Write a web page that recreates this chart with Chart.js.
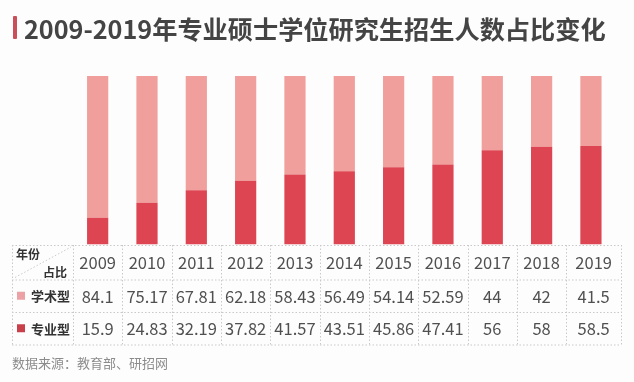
<!DOCTYPE html>
<html>
<head>
<meta charset="utf-8">
<script src="https://cdn.jsdelivr.net/npm/chart.js@4/dist/chart.umd.min.js"></script>
<style>
  html, body { margin:0; padding:0; background:#fdfdfd; }
  #wrap { position:relative; width:634px; height:382px; overflow:hidden; background:#fdfdfd; }
  #c { position:absolute; left:0; top:0; }
  #accent { position:absolute; left:13px; top:16px; width:4px; height:23px; background:#c94f5a; border-radius:1px; }
  #title { position:absolute; left:24px; top:14px; font:700 25.2px "Noto Sans CJK SC", sans-serif; line-height:28px; color:#444; white-space:nowrap; letter-spacing:0px; }
  #source { position:absolute; left:12px; top:355px; font:400 13px "Noto Sans CJK SC", sans-serif; line-height:16px; color:#8c8c8c; white-space:nowrap; }
</style>
</head>
<body>
<div id="wrap">
  <canvas id="c" width="634" height="382"></canvas>
  <div id="accent"></div>
  <div id="title">2009-2019年专业硕士学位研究生招生人数占比变化</div>
  <div id="source">数据来源：教育部、研招网</div>
</div>
<script>
const years = ['2009','2010','2011','2012','2013','2014','2015','2016','2017','2018','2019'];
const academic = [84.1, 75.17, 67.81, 62.18, 58.43, 56.49, 54.14, 52.59, 44, 42, 41.5];
const professional = [15.9, 24.83, 32.19, 37.82, 41.57, 43.51, 45.86, 47.41, 56, 58, 58.5];
const academicLabels = ['84.1','75.17','67.81','62.18','58.43','56.49','54.14','52.59','44','42','41.5'];
const professionalLabels = ['15.9','24.83','32.19','37.82','41.57','43.51','45.86','47.41','56','58','58.5'];
const seriesNames = ['学术型', '专业型'];
const headerTop = '年份';
const headerBottom = '占比';

const COL_LIGHT = '#f09f9c';
const COL_DARK = '#dc4551';

const tablePlugin = {
  id: 'tablePlugin',
  afterDraw(chart) {
    const ctx = chart.ctx;
    const xs = chart.scales.x;
    const area = chart.chartArea;
    const n = years.length;
    const catW = (area.right - area.left) / n;
    const tLeft = 12, tRight = 621;
    const rows = [245, 279.5, 312, 344.5];
    ctx.save();
    ctx.strokeStyle = '#c9c9c9';
    ctx.lineWidth = 1;
    ctx.setLineDash([1.5, 2]);
    ctx.beginPath();
    rows.forEach(y => { ctx.moveTo(tLeft, y + 0.5); ctx.lineTo(tRight, y + 0.5); });
    const vlines = [tLeft, area.left];
    for (let i = 1; i < n; i++) vlines.push(area.left + catW * i);
    vlines.push(tRight);
    vlines.forEach(x => { ctx.moveTo(Math.round(x) + 0.5, rows[0]); ctx.lineTo(Math.round(x) + 0.5, rows[3]); });
    ctx.moveTo(tLeft + 3, rows[1] - 2);
    ctx.lineTo(area.left - 2, rows[0] + 2);
    ctx.stroke();
    ctx.setLineDash([]);

    ctx.fillStyle = '#333';
    ctx.font = '700 12px "Noto Sans CJK SC", sans-serif';
    ctx.textBaseline = 'middle';
    ctx.textAlign = 'left';
    ctx.fillText(headerTop, 16, 254);
    ctx.textAlign = 'right';
    ctx.fillText(headerBottom, 67, 272);

    const rowMid = [(rows[1] + rows[2]) / 2, (rows[2] + rows[3]) / 2];
    const sq = [ '#eba1a5', '#c9404b' ];
    ctx.textAlign = 'left';
    ctx.font = '700 13px "Noto Sans CJK SC", sans-serif';
    for (let r = 0; r < 2; r++) {
      ctx.fillStyle = sq[r];
      ctx.fillRect(17, rowMid[r] - 4, 8, 8);
      ctx.fillStyle = '#333';
      ctx.fillText(seriesNames[r], 31, rowMid[r] + 0.5);
    }

    ctx.textAlign = 'center';
    ctx.fillStyle = '#505050';
    ctx.font = '400 16.5px "Noto Sans CJK SC", sans-serif';
    const headMid = (rows[0] + rows[1]) / 2;
    for (let i = 0; i < n; i++) {
      let cx = xs.getPixelForValue(i);
      if (i === n - 1) cx = (area.left + catW * i + tRight) / 2;
      ctx.fillText(years[i], cx, headMid + 0.5);
      ctx.fillText(academicLabels[i], cx, rowMid[0] + 0.5);
      ctx.fillText(professionalLabels[i], cx, rowMid[1] + 0.5);
    }
    ctx.restore();
  }
};

new Chart(document.getElementById('c'), {
  type: 'bar',
  data: {
    labels: years,
    datasets: [
      { label: seriesNames[1], data: professional, backgroundColor: COL_DARK, borderWidth: 0 },
      { label: seriesNames[0], data: academic, backgroundColor: COL_LIGHT, borderWidth: 0 }
    ]
  },
  options: {
    responsive: false,
    animation: false,
    events: [],
    layout: { padding: { left: 73, right: 18.4, top: 76, bottom: 137.5 } },
    datasets: { bar: { categoryPercentage: 1, barPercentage: 0.43 } },
    scales: {
      x: { stacked: true, display: false },
      y: { stacked: true, display: false, min: 0, max: 100 }
    },
    plugins: { legend: { display: false }, tooltip: { enabled: false } }
  },
  plugins: [tablePlugin]
});
</script>
</body>
</html>
